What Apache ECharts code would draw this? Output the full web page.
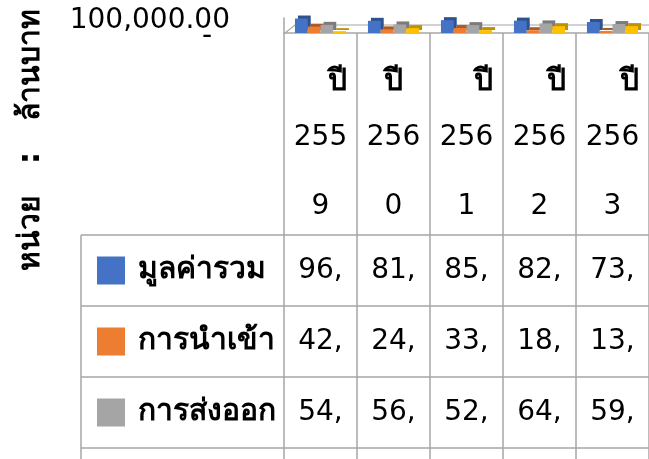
<!DOCTYPE html>
<html>
<head>
<meta charset="utf-8">
<script src="https://cdn.jsdelivr.net/npm/echarts@6/dist/echarts.min.js"></script>
<style>
html,body{margin:0;padding:0;background:#fff}
#chart{width:649px;height:459px}
</style>
</head>
<body>
<div id="chart"></div>
<script>
// ข้อมูล (ล้านบาท)
var years = ['ปี 2559', 'ปี 2560', 'ปี 2561', 'ปี 2562', 'ปี 2563'];
var seriesNames = ['มูลค่ารวม', 'การนำเข้า', 'การส่งออก', 'ดุลการค้า'];
var totalValue = [96510, 81280, 85570, 82660, 73490];
var importValue = [42160, 24380, 33120, 18640, 13790];
var exportValue = [54350, 56900, 52450, 64020, 59700];
var balanceValue = [12190, 32520, 19330, 45380, 45910];
var yMin = 0, yMax = 100000, yStep = 100000;
var unitLabel = 'หน่วย   :   ล้านบาท';

var colors = ['#4472C4', '#ED7D31', '#A5A5A5', '#FFC000'];
var sideColors = ['#2F528F', '#AE5A21', '#7B7B7B', '#BF9000'];
var lineColor = '#A6A6A6';
var FONT = "'DejaVu Sans', sans-serif";
var allValues = [totalValue, importValue, exportValue, balanceValue];

var myChart = echarts.init(document.getElementById('chart'));

// ตัวเลขในตาราง ถูกตัดเหลือแค่ส่วนหน้าเครื่องหมายจุลภาค แบบในภาพ
function cellText(v) {
    var s = v.toLocaleString('en-US', {minimumFractionDigits: 2, maximumFractionDigits: 2});
    return s.split(',')[0] + ',';
}

var tableData = [];
allValues.forEach(function (arr, r) {
    arr.forEach(function (v, i) {
        tableData.push([i, r, v]);
    });
});

var barSeries = allValues.map(function (arr, r) {
    return {
        name: seriesNames[r],
        type: 'bar',
        xAxisIndex: 0,
        yAxisIndex: 0,
        barGap: '0%',
        barCategoryGap: '30%',
        itemStyle: {
            color: colors[r],
            shadowColor: sideColors[r],
            shadowOffsetX: 3,
            shadowOffsetY: -3,
            shadowBlur: 0
        },
        data: arr
    };
});

// ป้ายสัญลักษณ์ของแต่ละแถวในตาราง
var rowRich = {t: {fontSize: 30, fontWeight: 'bold', color: '#000', padding: [0, 0, 0, 13], fontFamily: FONT}};
colors.forEach(function (c, i) {
    rowRich['s' + i] = {width: 28, height: 28, backgroundColor: c};
});

var option = {
    animation: false,
    color: colors,
    textStyle: {fontFamily: FONT},
    grid: [
        {left: 284, right: 0, top: 18, height: 15, containLabel: false, outerBoundsMode: 'none'},
        {left: 284, right: 0, top: 235, height: 284, containLabel: false, outerBoundsMode: 'none'}
    ],
    xAxis: [
        {
            type: 'category',
            gridIndex: 0,
            data: years,
            axisLine: {lineStyle: {color: lineColor, width: 1.5}},
            axisTick: {show: true, length: 430, interval: 0, lineStyle: {color: lineColor, width: 1.5}},
            axisLabel: {
                interval: 0,
                margin: 28,
                formatter: function (v, i) {
                    var p = v.split(' ');
                    var h = i === 1 ? 'hc' : 'h';
                    return '{' + h + '|' + p[0] + '}\n{n|' + p[1].slice(0, 3) + '}\n{n|' + p[1].slice(3) + '}';
                },
                rich: {
                    h: {fontSize: 30, fontWeight: 'bold', color: '#000', lineHeight: 42, align: 'right', fontFamily: FONT},
                    hc: {fontSize: 30, fontWeight: 'bold', color: '#000', lineHeight: 42, align: 'center', fontFamily: FONT},
                    n: {fontSize: 28, color: '#000', lineHeight: 69, fontFamily: FONT}
                }
            }
        },
        {
            type: 'category',
            gridIndex: 1,
            data: years,
            show: false
        }
    ],
    yAxis: [
        {
            type: 'value',
            gridIndex: 0,
            position: 'left',
            min: yMin,
            max: yMax,
            interval: yStep,
            axisLine: {show: true, lineStyle: {color: lineColor, width: 1.5}},
            axisTick: {show: false},
            splitLine: {show: false},
            axisLabel: {
                margin: 54,
                showMaxLabel: true,
                formatter: function (v) {
                    return v === 0 ? '' : '{m|' + v.toLocaleString('en-US', {minimumFractionDigits: 2}) + '}';
                },
                rich: {
                    m: {fontSize: 28, color: '#000', padding: [5, 0, 0, 0], fontFamily: FONT}
                }
            }
        },
        {
            type: 'category',
            gridIndex: 1,
            position: 'left',
            inverse: true,
            data: seriesNames,
            axisLine: {show: false},
            axisTick: {show: true, length: 203, interval: 0, lineStyle: {color: lineColor, width: 1.5}},
            axisLabel: {
                interval: 0,
                align: 'left',
                margin: 187,
                formatter: function (v, i) {
                    return '{s' + i + '|}{t|' + v + '}';
                },
                rich: rowRich
            },
            splitLine: {show: true, interval: 0, lineStyle: {color: lineColor, width: 1.5}}
        },
        {
            // ศูนย์แบบบัญชี แสดงเป็นขีด
            type: 'value',
            gridIndex: 0,
            position: 'left',
            offset: 0,
            min: yMin,
            max: yMax,
            interval: yStep,
            axisLine: {show: false},
            axisTick: {show: false},
            splitLine: {show: false},
            axisLabel: {
                margin: 54,
                showMinLabel: true,
                formatter: function (v) {
                    return v === 0 ? '{z|-}' : '';
                },
                rich: {
                    z: {fontSize: 28, color: '#000', padding: [8, 18, 0, 0], fontFamily: FONT}
                }
            }
        }
    ],
    graphic: [
        {
            type: 'text',
            x: 31,
            y: 140,
            rotation: Math.PI / 2,
            style: {text: unitLabel, fontSize: 30, fontWeight: 'bold', fill: '#000', fontFamily: FONT, textAlign: 'center', textVerticalAlign: 'middle'}
        },
        {
            type: 'line',
            shape: {x1: 81, y1: 235, x2: 81, y2: 459},
            style: {stroke: lineColor, lineWidth: 1.5}
        },
        {
            type: 'polyline',
            z: 0,
            shape: {points: [[285, 33], [295, 25], [649, 25]]},
            style: {stroke: lineColor, lineWidth: 1.2, fill: null}
        }
    ],
    series: barSeries.concat([
        {
            type: 'scatter',
            xAxisIndex: 1,
            yAxisIndex: 1,
            symbolSize: 0,
            silent: true,
            itemStyle: {opacity: 1},
            label: {
                show: true,
                position: 'inside',
                color: '#000',
                fontSize: 28,
                formatter: function (p) { return cellText(p.value[2]); }
            },
            data: tableData
        }
    ])
};

myChart.setOption(option);
</script>
</body>
</html>
